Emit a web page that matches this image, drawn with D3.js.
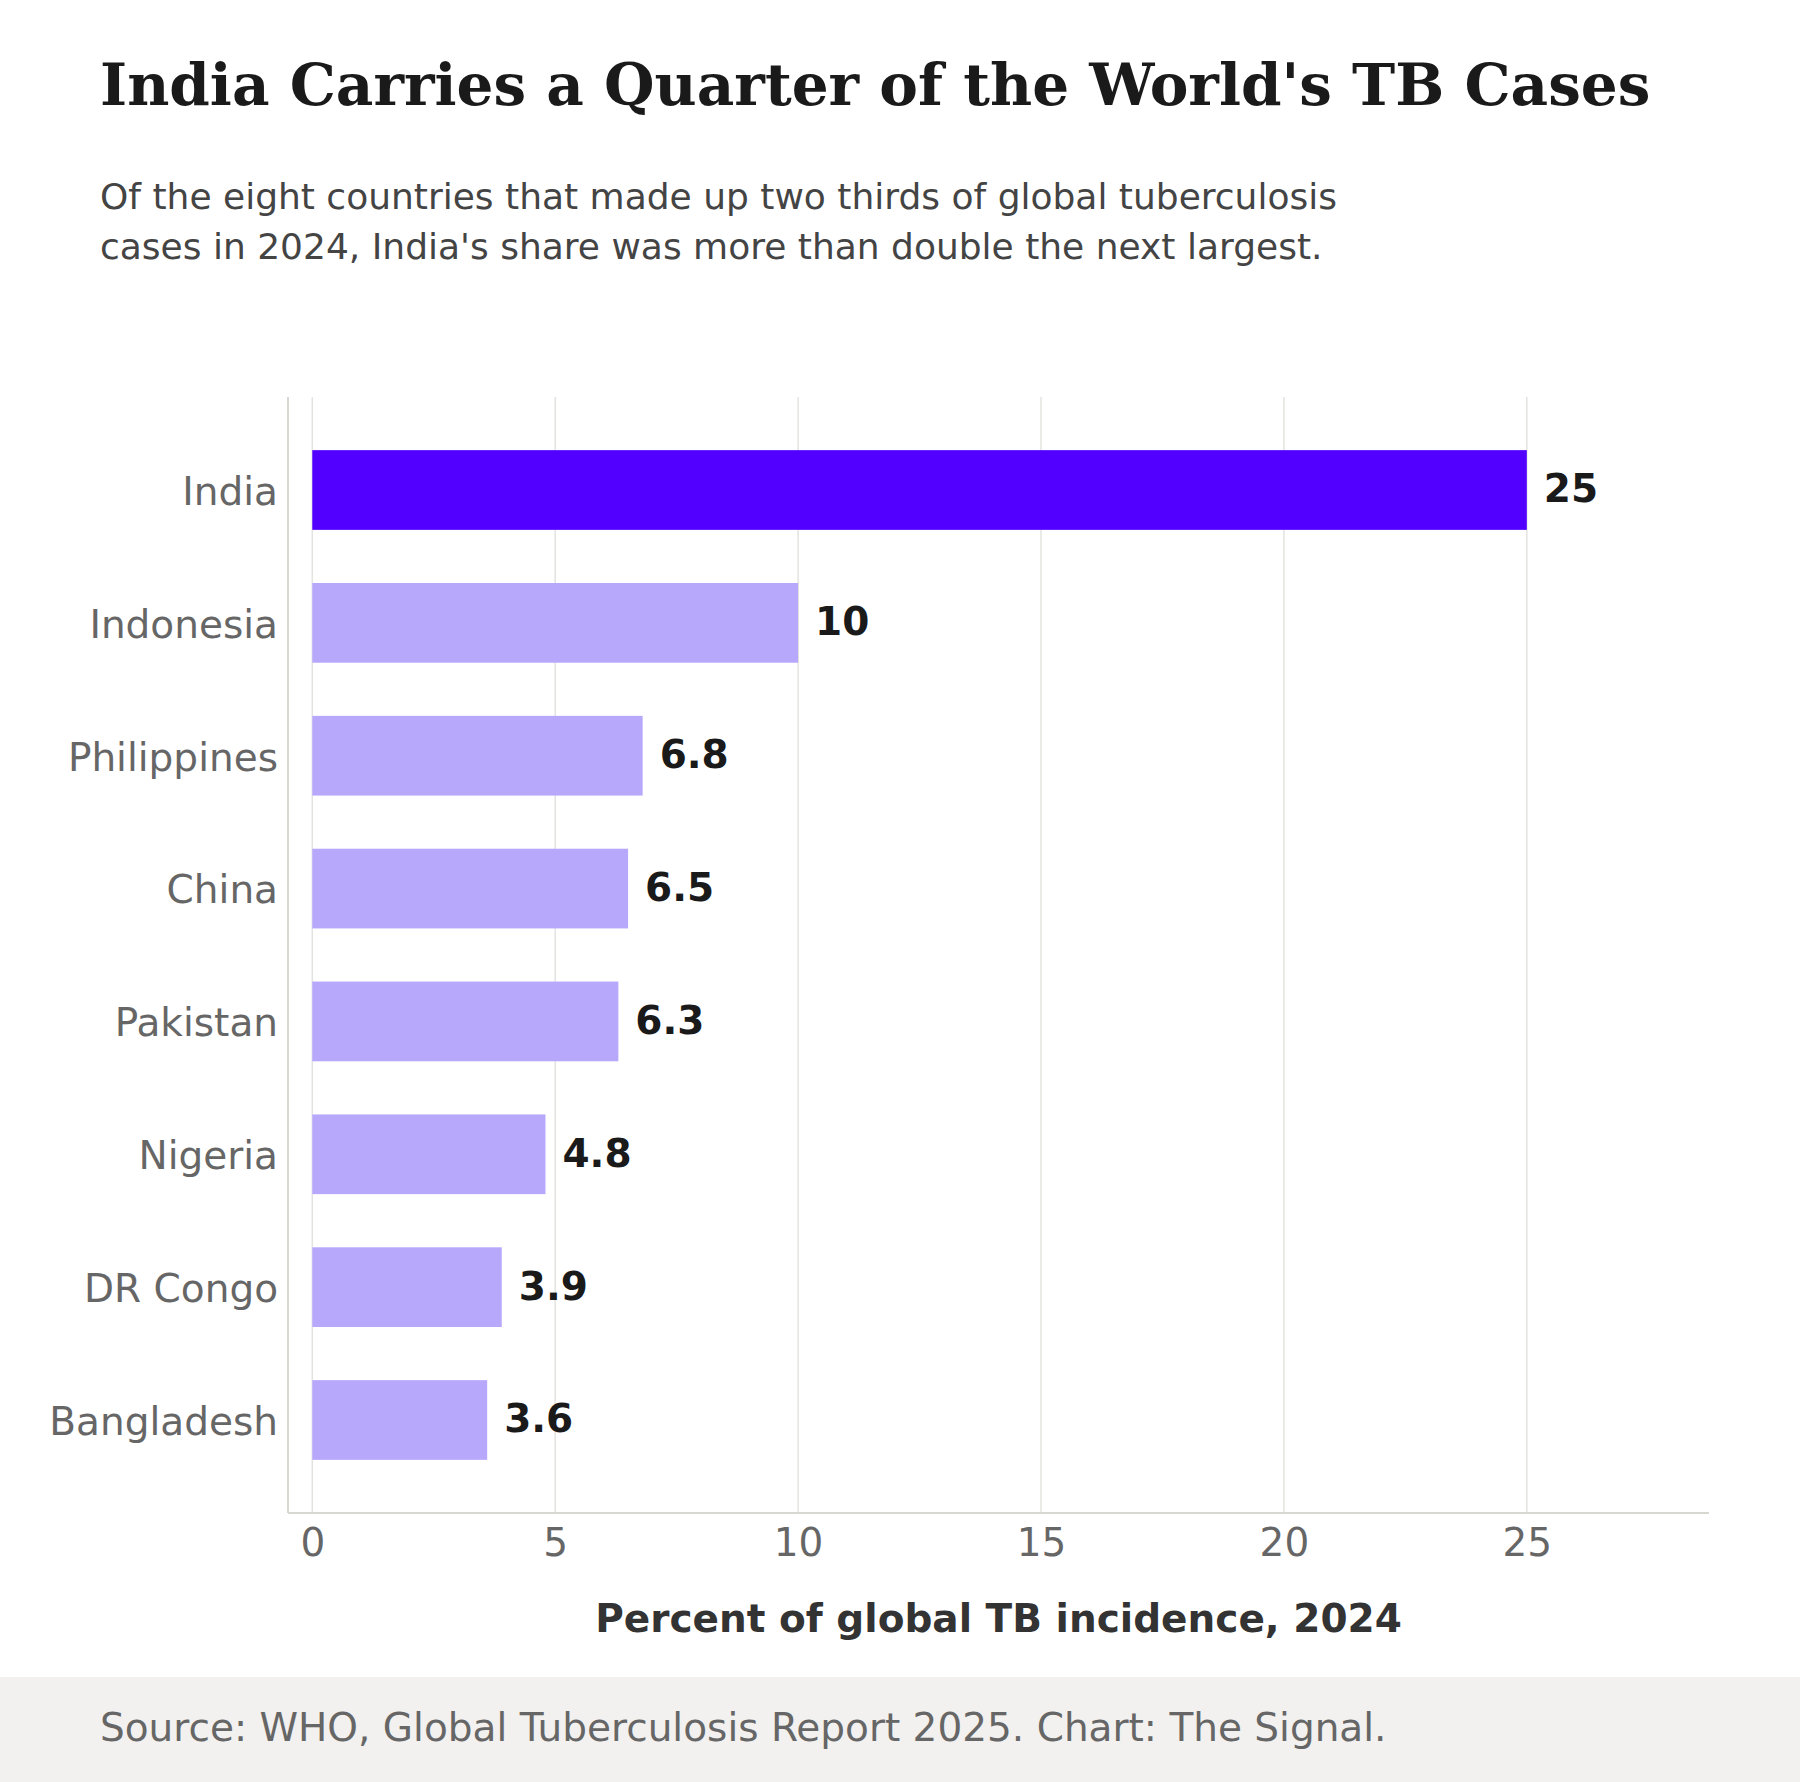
<!DOCTYPE html>
<html>
<head>
<meta charset="utf-8">
<script src="https://cdn.jsdelivr.net/npm/d3@7"></script>
<style>
  body { margin: 0; background: #fff; }
  svg text { font-family: "DejaVu Sans", sans-serif; }
</style>
</head>
<body>
<div id="chart"></div>
<script>
const countries = ["India", "Indonesia", "Philippines", "China", "Pakistan", "Nigeria", "DR Congo", "Bangladesh"];
const shares = [25, 10, 6.8, 6.5, 6.3, 4.8, 3.9, 3.6];
const xTicks = [0, 5, 10, 15, 20, 25];

const W = 1800, H = 1782;
const plot = {left: 288, right: 1709, top: 397, bottom: 1513};

const svg = d3.select("#chart").append("svg")
    .attr("width", W)
    .attr("height", H);

svg.append("rect").attr("width", W).attr("height", H).attr("fill", "#fff");

// title + subtitle
svg.append("text")
    .attr("x", 100).attr("y", 105)
    .style("font-family", "'DejaVu Serif', serif")
    .style("font-weight", "bold")
    .style("font-size", "58px")
    .attr("fill", "#1a1a1a")
    .text("India Carries a Quarter of the World's TB Cases");

const sub = ["Of the eight countries that made up two thirds of global tuberculosis",
             "cases in 2024, India's share was more than double the next largest."];
svg.selectAll(".sub").data(sub).enter().append("text")
    .attr("class", "sub")
    .attr("x", 100)
    .attr("y", (d, i) => 209 + i * 50)
    .style("font-size", "36px")
    .attr("fill", "#444")
    .text(d => d);

// scales
const x = d3.scaleLinear()
    .domain([-0.5, 28.75])
    .range([plot.left, plot.right]);

const y = d3.scaleBand()
    .domain(countries)
    .range([plot.top, plot.bottom])
    .paddingInner(0.4)
    .paddingOuter(0.4);

// grid
svg.selectAll(".grid").data(xTicks).enter().append("line")
    .attr("class", "grid")
    .attr("x1", d => x(d)).attr("x2", d => x(d))
    .attr("y1", plot.top).attr("y2", plot.bottom)
    .attr("stroke", "#e3e3df")
    .attr("stroke-width", 1.5);

// bars
svg.selectAll(".bar").data(countries).enter().append("rect")
    .attr("class", "bar")
    .attr("x", x(0))
    .attr("y", d => y(d))
    .attr("width", (d, i) => x(shares[i]) - x(0))
    .attr("height", y.bandwidth())
    .attr("fill", (d, i) => i === 0 ? "#5200ff" : "#b8a8fc");

// value labels
svg.selectAll(".val").data(countries).enter().append("text")
    .attr("class", "val")
    .attr("x", (d, i) => x(shares[i]) + 17)
    .attr("y", d => y(d) + y.bandwidth() / 2)
    .attr("dy", "0.32em")
    .style("font-size", "39px")
    .style("font-weight", "bold")
    .attr("fill", "#1a1a1a")
    .text((d, i) => shares[i]);

// axes
const xAxis = svg.append("g")
    .attr("transform", "translate(0," + plot.bottom + ")")
    .call(d3.axisBottom(x).tickValues(xTicks).tickSize(0).tickPadding(15));
xAxis.select(".domain").remove();
xAxis.selectAll("text")
    .style("font-size", "39px")
    .attr("fill", "#666");

const yAxis = svg.append("g")
    .attr("transform", "translate(" + plot.left + ",0)")
    .call(d3.axisLeft(y).tickSize(0).tickPadding(10));
yAxis.select(".domain").remove();
yAxis.selectAll("text")
    .attr("dy", "0.38em")
    .style("font-size", "39px")
    .attr("fill", "#666");

// spines
svg.append("line")
    .attr("x1", plot.left).attr("x2", plot.left)
    .attr("y1", plot.top).attr("y2", plot.bottom)
    .attr("stroke", "#d8d8d2").attr("stroke-width", 2);
svg.append("line")
    .attr("x1", plot.left).attr("x2", plot.right)
    .attr("y1", plot.bottom).attr("y2", plot.bottom)
    .attr("stroke", "#d8d8d2").attr("stroke-width", 2);

// x axis title
svg.append("text")
    .attr("x", (plot.left + plot.right) / 2)
    .attr("y", 1632)
    .attr("text-anchor", "middle")
    .style("font-size", "39px")
    .style("font-weight", "bold")
    .attr("fill", "#333")
    .text("Percent of global TB incidence, 2024");

// footer
svg.append("rect")
    .attr("x", 0).attr("y", 1677)
    .attr("width", W).attr("height", H - 1677)
    .attr("fill", "#f2f1ef");
svg.append("text")
    .attr("x", 100).attr("y", 1741)
    .style("font-size", "39px")
    .attr("fill", "#666")
    .text("Source: WHO, Global Tuberculosis Report 2025. Chart: The Signal.");
</script>
</body>
</html>
